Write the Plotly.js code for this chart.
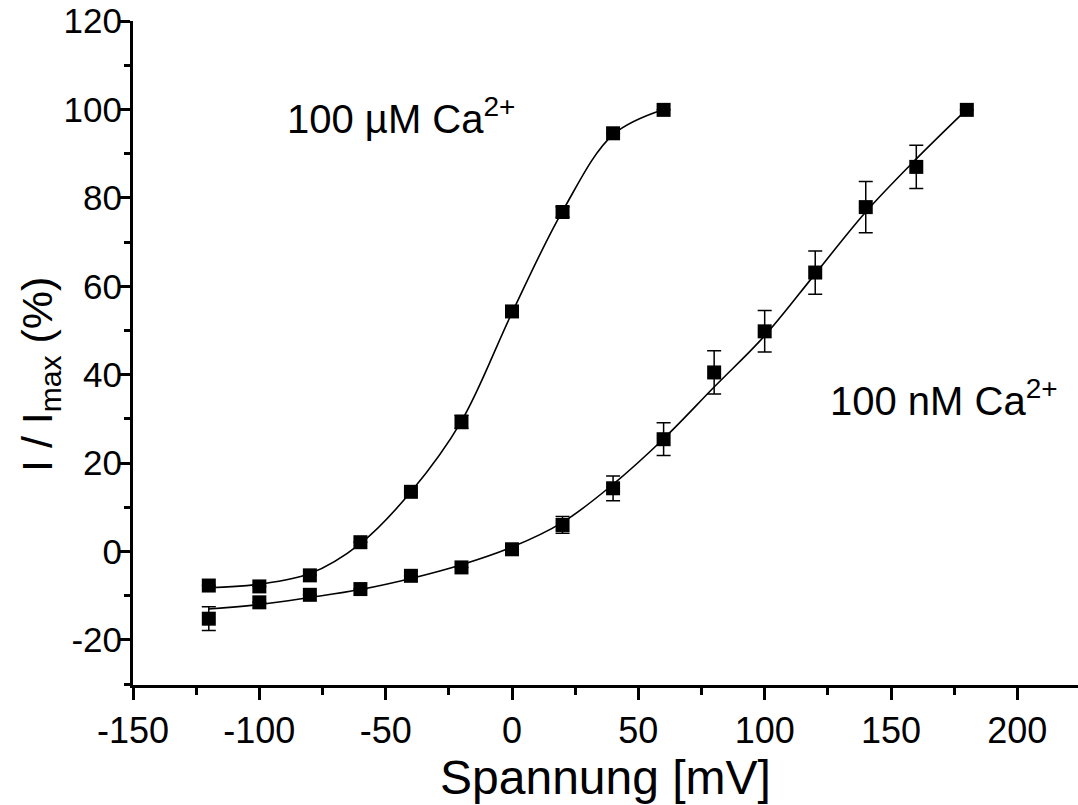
<!DOCTYPE html>
<html>
<head>
<meta charset="utf-8">
<script src="https://cdn.plot.ly/plotly-3.0.1.min.js"></script>
<style>html,body{margin:0;padding:0;background:#fff;}#chart{width:1078px;height:805px;}</style>
</head>
<body>
<div id="chart"></div>
<script>
// Voltage (mV)
const voltUM = [-120, -100, -80, -60, -40, -20, 0, 20, 40, 60];
const voltNM = [-120, -100, -80, -60, -40, -20, 0, 20, 40, 60, 80, 100, 120, 140, 160, 180];

// 100 µM Ca2+ : measured I/Imax (%) and error
const valUM = [-7.7, -7.9, -5.4, 2.1, 13.5, 29.3, 54.3, 76.8, 94.6, 99.9];
const errUM = [0, 0, 0, 0, 0, 1.5, 0, 1.2, 0, 0];
// fitted curve read at the same voltages
const fitUM = [-8.2, -7.4, -5.0, 1.8, 13.5, 29.5, 54.0, 77.0, 94.3, 100.0];

// 100 nM Ca2+ : measured I/Imax (%) and error
const valNM = [-15.2, -11.5, -9.8, -8.5, -5.5, -3.6, 0.5, 6.0, 14.3, 25.4, 40.5, 49.8, 63.1, 77.9, 87.0, 99.9];
const errNM = [2.7, 0, 0, 0, 0, 0, 0, 1.9, 2.8, 3.7, 4.9, 4.7, 4.9, 5.8, 4.9, 0];
// fitted curve read at the same voltages
const fitNM = [-13.0, -12.0, -10.4, -8.6, -6.1, -3.0, 1.0, 6.6, 15.2, 25.5, 37.2, 48.8, 62.8, 76.8, 88.8, 100.0];

// Tick values and labels
const xTickVals = [-150, -100, -50, 0, 50, 100, 150, 200];
const xTickText = ['-150', '-100', '-50', '0', '50', '100', '150', '200'];
const xMinorVals = [-125, -75, -25, 25, 75, 125, 175];
const yTickVals = [-20, 0, 20, 40, 60, 80, 100, 120];
const yTickText = ['-20', '0', '20', '40', '60', '80', '100', '120'];
const yMinorVals = [-30, -10, 10, 30, 50, 70, 90, 110];

// Labels
const labelUM = '100 µM Ca<sup>2+</sup>';
const labelNM = '100 nM Ca<sup>2+</sup>';
const xTitle = 'Spannung [mV]';
const yTitle = 'I / I<sub>max</sub> (%)';

const FONT = 'Arial, "Liberation Sans", sans-serif';

const traces = [
  {x: voltUM, y: fitUM, mode: 'lines', line: {color: '#000', width: 1.6, shape: 'spline', smoothing: 1}, hoverinfo: 'skip'},
  {x: voltNM, y: fitNM, mode: 'lines', line: {color: '#000', width: 1.6, shape: 'spline', smoothing: 1}, hoverinfo: 'skip'},
  {x: voltUM, y: valUM, mode: 'markers', marker: {symbol: 'square', size: 14, color: '#000'},
   error_y: {type: 'data', array: errUM, visible: true, color: '#000', thickness: 1.5, width: 7}},
  {x: voltNM, y: valNM, mode: 'markers', marker: {symbol: 'square', size: 14, color: '#000'},
   error_y: {type: 'data', array: errNM, visible: true, color: '#000', thickness: 1.5, width: 7}}
];

const layout = {
  width: 1078, height: 805,
  margin: {l: 133, r: 0, t: 21, b: 120},
  paper_bgcolor: '#fff', plot_bgcolor: '#fff',
  showlegend: false,
  font: {family: FONT, color: '#000', size: 36},
  xaxis: {
    range: [-150, 224], tickvals: xTickVals, ticktext: xTickText,
    ticks: 'outside', ticklen: 12, tickwidth: 3, tickcolor: '#000',
    minor: {tickvals: xMinorVals, ticks: 'outside', ticklen: 7, tickwidth: 3, tickcolor: '#000'},
    showline: true, linewidth: 3, linecolor: '#000', showgrid: false, zeroline: false,
    tickfont: {family: FONT, size: 36, color: '#000'},
    title: {text: xTitle, font: {family: FONT, size: 48, color: '#000'}, standoff: 3}
  },
  yaxis: {
    range: [-30.2, 120], tickvals: yTickVals, ticktext: yTickText,
    ticks: 'outside', ticklen: 10, tickwidth: 3, tickcolor: '#000',
    minor: {tickvals: yMinorVals, ticks: 'outside', ticklen: 6, tickwidth: 3, tickcolor: '#000'},
    showline: true, linewidth: 3, linecolor: '#000', showgrid: false, zeroline: false,
    ticklabelstandoff: -9,
    tickfont: {family: FONT, size: 35, color: '#000'}
  },
  annotations: [
    {x: -90, y: 98.6, xref: 'x', yref: 'y', text: labelUM, showarrow: false, xanchor: 'left', yanchor: 'middle', font: {family: FONT, size: 40, color: '#000'}},
    {x: 125, y: 34.7, xref: 'x', yref: 'y', text: labelNM, showarrow: false, xanchor: 'left', yanchor: 'middle', font: {family: FONT, size: 40, color: '#000'}},
    {x: (40 - 133) / 945, y: (685 - 375) / 664, xref: 'paper', yref: 'paper', text: yTitle, textangle: -90, showarrow: false, xanchor: 'center', yanchor: 'middle', font: {family: FONT, size: 43, color: '#000'}}
  ]
};

Plotly.newPlot('chart', traces, layout, {displayModeBar: false, staticPlot: true});
</script>
</body>
</html>
